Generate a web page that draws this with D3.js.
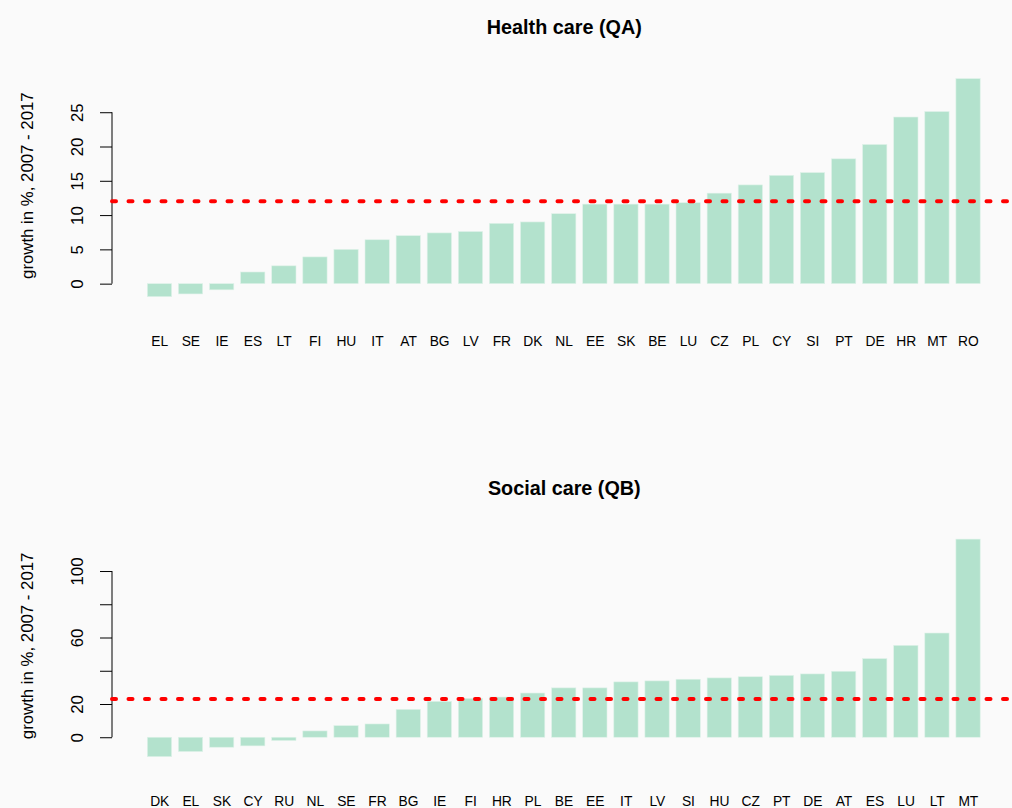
<!DOCTYPE html>
<html>
<head>
<meta charset="utf-8">
<script src="https://cdn.jsdelivr.net/npm/d3@7/dist/d3.min.js"></script>
<style>
  html, body { margin: 0; padding: 0; background: #fafafa; }
  svg { display: block; }
  text { font-family: "Liberation Sans", Arial, Helvetica, sans-serif; fill: #000; }
</style>
</head>
<body>
<svg id="chart" width="1012" height="808"></svg>
<script>
// Growth of employment 2007-2017, sorted ascending, per country
const healthCountries = ["EL","SE","IE","ES","LT","FI","HU","IT","AT","BG","LV","FR","DK","NL","EE","SK","BE","LU","CZ","PL","CY","SI","PT","DE","HR","MT","RO"];
const healthGrowth = [-1.9,-1.5,-0.9,1.7,2.6,3.9,5.0,6.4,7.0,7.4,7.6,8.8,9.0,10.2,11.6,11.6,11.6,11.8,13.2,14.4,15.8,16.2,18.2,20.3,24.3,25.1,29.9];
const healthAverage = 12;
const healthTicks = [0, 5, 10, 15, 20, 25];
const healthTickLabels = ["0", "5", "10", "15", "20", "25"];

const socialCountries = ["DK","EL","SK","CY","RU","NL","SE","FR","BG","IE","FI","HR","PL","BE","EE","IT","LV","SI","HU","CZ","PT","DE","AT","ES","LU","LT","MT"];
const socialGrowth = [-11.7,-8.6,-6.0,-5.2,-2.0,3.8,7.0,8.0,16.8,21.6,23.4,24.2,26.6,29.7,29.7,33.3,33.9,34.9,35.7,36.4,37.2,38.1,39.7,47.3,55.3,62.7,119.2];
const socialAverage = 23;
const socialTicks = [0, 20, 40, 60, 80, 100];
const socialTickLabels = ["0", "20", "", "60", "", "100"];

const svg = d3.select("#chart");
const BAR_FILL = "#B3E2CD";

function drawPanel(opts) {
  const { countries, values, average, ticks, tickLabels, title, top, bottom } = opts;
  const axisX = 112;

  const x = d3.scaleBand()
    .domain(countries)
    .range([144.2, 983.9])
    .paddingInner(0.2)
    .paddingOuter(0.1);

  // value range padded by 4% on each side
  const [lo, hi] = d3.extent(values);
  const pad = (hi - lo) * 0.04;
  const y = d3.scaleLinear().domain([lo - pad, hi + pad]).range([bottom, top]);

  const g = svg.append("g");

  // bars
  g.selectAll("rect.bar")
    .data(values)
    .join("rect")
    .attr("class", "bar")
    .attr("x", (d, i) => x(countries[i]))
    .attr("width", x.bandwidth() - 0.6)
    .attr("y", d => y(Math.max(0, d)))
    .attr("height", d => Math.abs(y(d) - y(0)))
    .attr("fill", BAR_FILL)
    .attr("stroke", "#dff2e9")
    .attr("stroke-width", 0.6);

  // category labels
  g.selectAll("text.cat")
    .data(countries)
    .join("text")
    .attr("class", "cat")
    .attr("x", d => x(d) + x.bandwidth() / 2)
    .attr("y", bottom + 40.6)
    .attr("text-anchor", "middle")
    .attr("font-size", "13.8px")
    .text(d => d);

  // y axis, R style: line spans first to last tick, rotated labels
  const axis = d3.axisLeft(y)
    .tickValues(ticks)
    .tickSize(12)
    .tickFormat((d, i) => tickLabels[i]);
  const ag = g.append("g")
    .attr("transform", `translate(${axisX},0)`)
    .call(axis);
  ag.select(".domain").remove();
  ag.selectAll(".tick line").attr("stroke", "#000").attr("stroke-width", 1);
  ag.selectAll(".tick text")
    .attr("transform", "rotate(-90)")
    .attr("x", 0)
    .attr("y", -28.7)
    .attr("dy", 0)
    .attr("text-anchor", "middle")
    .attr("font-size", "16.8px")
    .attr("font-family", "Liberation Sans, Arial, sans-serif")
    .attr("fill", "#000");
  ag.append("line")
    .attr("x1", 0).attr("x2", 0)
    .attr("y1", y(ticks[0])).attr("y2", y(ticks[ticks.length - 1]))
    .attr("stroke", "#000").attr("stroke-width", 1);

  // axis title
  g.append("text")
    .attr("transform", `translate(33.3,${(top + bottom) / 2 - 2}) rotate(-90)`)
    .attr("text-anchor", "middle")
    .attr("font-size", "16.8px")
    .text("growth in %, 2007 - 2017");

  // panel title
  g.append("text")
    .attr("x", 564.3)
    .attr("y", top - 35.6)
    .attr("text-anchor", "middle")
    .attr("font-size", "19.8px")
    .attr("font-weight", "bold")
    .text(title);

  // average reference line
  g.append("line")
    .attr("x1", axisX).attr("x2", 1020)
    .attr("y1", y(average)).attr("y2", y(average))
    .attr("stroke", "#ff0000")
    .attr("stroke-width", 4)
    .attr("stroke-linecap", "round")
    .attr("stroke-dasharray", "4 12.5");
}

drawPanel({
  countries: healthCountries, values: healthGrowth, average: healthAverage,
  ticks: healthTicks, tickLabels: healthTickLabels,
  title: "Health care (QA)", top: 69.9, bottom: 305.4
});

drawPanel({
  countries: socialCountries, values: socialGrowth, average: socialAverage,
  ticks: socialTicks, tickLabels: socialTickLabels,
  title: "Social care (QB)", top: 530.4, bottom: 765.4
});
</script>
</body>
</html>
